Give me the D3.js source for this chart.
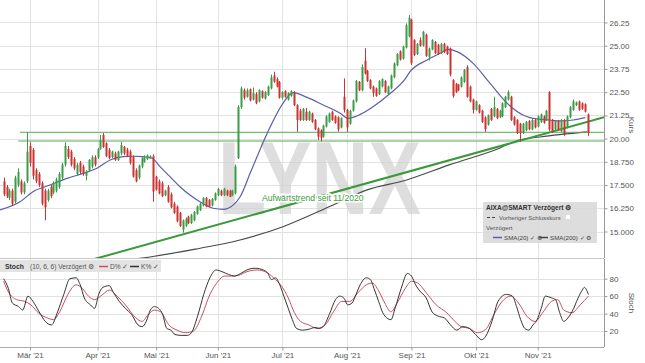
<!DOCTYPE html>
<html><head><meta charset="utf-8">
<script src="https://cdn.jsdelivr.net/npm/d3@7"></script>
<style>body{margin:0;background:#fff;} text{font-family:"Liberation Sans",Arial,sans-serif;}</style>
</head><body><svg id="c" width="645" height="363"></svg>
<script>
// ---------- data ----------
const firstDay = "2021-02-16", lastDay = "2021-11-24";
const holidays = ["2021-04-02", "2021-04-05"];
const monthLabels = ["Mär '21","Apr '21","Mai '21","Jun '21","Jul '21","Aug '21","Sep '21","Okt '21","Nov '21"];
const priceTicks = [15, 16.25, 17.5, 18.75, 20, 21.25, 22.5, 23.75, 25, 26.25];
const priceTickLabels = ["15.000","16.250","17.500","18.750","20.00","21.25","22.50","23.75","25.00","26.25"];
const stochTicks = [20, 40, 60, 80];
// daily candles [open, high, low, close]
const ohlc = [
[17.7,17.9,16.9,17.0],[17.4,17.5,16.8,16.9],[16.8,17.3,16.7,17.2],[17.2,17.3,16.4,16.5],[16.6,18.0,16.5,17.9],
[17.5,18.4,17.4,18.2],[17.7,17.8,17.0,17.1],[17.1,17.7,17.0,17.6],[17.7,20.35,17.6,19.3],[19.6,19.8,18.5,18.7],
[19.4,19.5,17.8,18.0],[18.3,18.4,17.6,17.7],[18.1,18.2,17.4,17.5],[17.6,17.7,16.4,16.5],[17.2,17.3,15.6,16.3],
[16.7,17.3,16.6,17.2],[17.4,17.5,16.8,16.9],[17.1,17.7,17.0,17.6],[17.2,17.9,17.1,17.8],[17.4,18.2,17.3,18.1],
[17.9,18.7,17.8,18.6],[18.6,19.8,18.5,19.6],[19.45,19.6,18.9,19.0],[19.3,19.4,18.5,18.6],[18.9,19.0,18.3,18.4],
[18.1,18.7,18.0,18.6],[18.7,18.8,18.1,18.2],[18.5,18.6,18.0,18.1],[18.0,18.3,17.75,18.2],[18.3,18.9,18.2,18.85],
[18.5,19.1,18.4,19.0],[19.0,19.1,18.5,18.6],[19.0,19.5,18.9,19.45],[19.45,20.2,19.4,19.9],[20.2,20.3,19.5,19.55],
[19.75,19.8,19.0,19.05],[19.4,19.5,18.9,18.95],[19.0,19.35,18.95,19.3],[19.2,19.3,18.8,18.85],[18.85,19.35,18.8,19.3],
[19.2,19.83,19.1,19.65],[19.55,19.6,19.1,19.2],[19.4,19.5,19.0,19.05],[19.3,19.4,18.6,18.7],[19.0,19.1,17.9,17.95],
[18.3,18.4,17.65,17.7],[17.9,18.6,17.8,18.55],[18.5,19.0,18.4,18.95],[18.75,19.1,18.7,19.0],[18.9,19.15,18.85,19.1],
[18.95,19.1,18.9,19.05],[19.05,19.15,16.6,17.15],[17.95,18.0,17.2,17.25],[17.7,17.8,17.0,17.05],[17.6,17.7,16.85,16.9],
[16.95,17.25,16.9,17.2],[17.4,17.5,16.55,16.6],[17.0,17.1,16.25,16.3],[16.5,16.6,15.95,16.0],[16.35,16.4,15.5,15.55],
[16.0,16.05,15.25,15.3],[15.1,15.65,14.94,15.6],[15.3,15.75,15.25,15.7],[15.8,15.85,15.4,15.45],[15.45,15.95,15.4,15.9],
[15.6,16.1,15.55,16.05],[15.95,16.4,15.9,16.35],[16.15,16.55,16.1,16.5],[16.4,16.85,16.35,16.8],[16.8,16.85,16.3,16.35],
[16.7,16.75,16.3,16.35],[16.4,16.8,16.35,16.75],[16.7,17.1,16.65,17.05],[16.95,17.35,16.9,17.3],[17.2,17.25,16.9,16.95],
[16.95,17.35,16.9,17.3],[17.2,17.25,16.9,16.95],[17.2,17.25,16.85,16.87],[16.95,17.25,16.9,17.2],[17.05,18.6,17.0,18.5],
[18.95,21.8,18.9,21.7],[21.7,22.8,21.6,22.7],[22.6,22.7,22.1,22.2],[22.25,22.7,22.2,22.6],[22.65,22.7,22.0,22.05],
[22.1,22.75,22.05,22.45],[22.4,22.5,21.85,21.9],[22.0,22.65,21.95,22.6],[22.55,22.6,22.15,22.2],[22.15,22.55,22.1,22.5],
[22.35,22.85,22.3,22.8],[22.7,23.45,22.65,23.3],[23.4,23.6,23.0,23.06],[23.2,23.3,22.75,22.8],[23.05,23.1,22.15,22.2],
[22.2,22.55,22.1,22.5],[22.55,22.6,22.2,22.25],[22.1,22.5,22.05,22.45],[22.3,22.6,22.25,22.55],[22.5,22.55,21.75,21.8],
[21.8,21.85,20.37,21.0],[21.5,21.6,20.95,21.0],[21.0,21.65,20.95,21.6],[21.45,21.65,20.95,21.0],[21.0,21.5,20.95,21.45],
[21.35,21.4,20.85,20.9],[21.0,21.05,20.45,20.5],[20.55,20.6,19.92,20.1],[20.45,20.5,19.85,20.05],[20.1,20.75,20.05,20.7],
[20.65,21.25,20.6,21.2],[20.9,21.4,20.85,21.35],[21.45,21.5,20.95,21.0],[21.2,21.25,20.8,20.85],[21.15,21.2,20.37,20.5],
[20.6,21.15,20.55,21.1],[22.25,23.24,21.4,21.55],[21.55,21.6,20.37,20.6],[20.8,21.55,20.75,21.5],[21.5,22.1,21.45,22.05],
[22.0,23.15,21.95,23.1],[23.05,23.1,22.55,22.6],[22.6,24.0,22.55,23.85],[24.2,24.86,23.45,23.5],[23.65,23.7,23.05,23.1],
[23.15,23.2,22.65,22.7],[22.8,22.85,22.25,22.45],[22.7,22.75,22.25,22.3],[22.4,23.15,22.35,23.1],[22.8,23.25,22.75,23.2],
[23.1,23.15,22.45,22.5],[22.4,22.85,22.35,22.8],[22.7,23.45,22.65,23.4],[23.3,24.1,23.25,24.05],[23.95,24.6,23.9,24.55],
[24.7,24.75,24.2,24.25],[24.3,25.0,24.25,24.95],[24.9,26.2,24.85,26.1],[25.5,26.65,25.45,26.5],[26.4,26.45,23.96,24.05],
[25.3,25.35,24.45,24.5],[24.55,25.15,24.5,25.1],[25.3,25.45,24.95,25.0],[25.0,25.8,24.95,25.75],[25.6,25.65,24.4,24.45],
[24.4,24.9,24.2,24.85],[24.8,25.35,24.75,25.3],[25.2,25.25,24.55,24.6],[25.05,25.1,24.5,24.55],[24.6,25.15,24.55,25.1],
[25.1,25.15,24.6,24.65],[24.95,25.0,24.5,24.55],[24.85,24.9,23.35,23.45],[23.15,23.2,22.2,22.3],[22.95,23.0,22.45,22.5],
[22.9,22.95,22.55,22.6],[22.8,23.35,22.75,23.3],[23.05,23.75,23.0,23.7],[23.85,23.95,22.2,22.25],[22.8,22.85,21.95,22.0],
[22.1,22.15,21.35,21.55],[21.55,22.05,21.5,22.0],[21.8,21.85,21.35,21.4],[21.5,21.55,20.85,20.9],[21.15,21.2,20.37,20.5],
[20.75,21.3,20.7,21.25],[21.6,21.65,20.95,21.0],[21.2,22.25,21.15,21.7],[21.6,21.65,21.05,21.1],[21.15,21.55,21.1,21.5],
[21.2,21.95,21.15,21.9],[21.7,22.3,21.65,22.25],[22.1,22.6,22.05,22.5],[22.25,22.3,20.95,21.0],[21.15,21.2,20.7,20.75],
[21.0,21.05,20.25,20.3],[20.8,20.85,19.83,20.3],[20.3,20.85,20.25,20.8],[20.45,20.95,20.4,20.9],[20.95,21.0,20.45,20.5],
[20.5,21.05,20.45,21.0],[21.0,21.05,20.55,20.6],[20.65,21.25,20.6,21.2],[20.9,21.35,20.85,21.3],[21.2,21.25,20.8,20.85],
[21.0,21.55,20.95,21.5],[22.5,22.55,20.4,20.5],[21.0,21.05,20.3,20.4],[20.5,21.0,20.45,20.95],[20.95,21.0,20.45,20.5],
[20.4,21.05,20.35,21.0],[21.0,21.05,20.15,20.2],[20.6,21.25,20.55,21.2],[21.15,21.75,21.1,21.7],[21.55,22.1,21.5,22.0],
[21.8,22.0,21.75,21.95],[22.0,22.05,21.5,21.55],[21.9,21.95,21.55,21.6],[21.85,21.9,21.4,21.45],[21.3,21.35,20.15,20.3]
];
// moving averages: [day index, value]
const sma20 = [[-1.2,16.16],[5.6,16.6],[10,17.14],[15.8,17.5],[21.6,17.86],[27.1,18.13],[31.8,18.4],[36.3,18.85],[40.7,19.03],[44.1,19.05],[47.5,19.03],[50.6,18.94],[53.3,18.49],[56.7,17.95],[60.1,17.41],[63.5,16.96],[66.9,16.6],[71.4,16.25],[74.8,16.19],[78.2,16.42],[80.6,16.87],[84,18.13],[89.8,20.28],[95.2,21.9],[98.6,22.47],[103.4,22.22],[108.9,21.81],[114.7,21.36],[117.4,21.09],[120.4,21.22],[125.9,21.72],[131.7,22.43],[136.8,23.2],[138.5,23.6],[144.3,24.23],[148.7,24.59],[151.5,24.8],[154.5,24.68],[160,24.05],[165.8,22.97],[171.6,21.9],[177,21.27],[180.4,21.09],[186.2,21.0],[189.6,20.95],[194.1,21.0],[198.2,21.13]];
const sma200 = [[37,13.4],[49.9,13.63],[67,14.1],[78.2,14.45],[95.2,15.26],[112.3,16.43],[123.9,17.24],[136.8,17.75],[152.1,18.6],[169.2,19.5],[175,19.9],[182.8,20.09],[198.8,20.36]];
// stochastic (10,6,6): [day index, value]
const stochK = [[0,80],[1.6,69],[3,52],[5.1,48],[6.5,44],[8.3,60],[10,54],[12.1,42],[14.2,31],[16.3,27],[18.4,42],[20.5,62],[22.6,80],[24.7,81],[26.1,73],[27.5,58],[29.6,50],[31,46],[32.4,62],[33.8,70],[36,72],[37.3,65],[39.4,54],[41.5,46],[43.6,39],[45.8,27],[47.2,25],[48.6,31],[50,44],[51.4,48],[52.8,46],[54.2,39],[55.6,23],[57,21],[58.4,16],[60.5,15],[62.6,15],[64,18],[66.1,37],[68.2,62],[70.3,81],[72.4,90],[74.5,88],[76.6,85],[78.7,83],[80.8,86],[82.9,90],[85.7,92],[88.5,90],[89.9,87],[91.3,79],[92.7,81],[94.1,73],[95.5,60],[97,46],[98.4,33],[99.8,23],[101.9,21],[104,22],[106.1,24],[107.5,23],[108.9,25],[111,39],[113.1,56],[114.5,60],[115.9,58],[117.3,50],[118.7,52],[120.1,62],[121.5,73],[123.6,81],[125,79],[126.4,67],[127.8,54],[129.2,41],[130.6,35],[132,33],[133.4,46],[135.5,69],[137.6,86],[139,83],[140.4,73],[141.8,66],[144,58],[146,42],[148.1,37],[150.2,35],[152.3,27],[154.4,21],[156.5,25],[158.7,23],[160.8,16],[162.9,10],[164.3,14],[166.4,31],[168.5,54],[171.3,62],[173.4,60],[174.8,48],[176.2,33],[177.6,23],[179,21],[180.4,27],[181.8,33],[183.2,46],[184.6,60],[186.7,58],[188.1,56],[189.5,41],[190.9,31],[192.3,35],[193.7,42],[195.8,58],[197.2,67],[197.9,70],[199.3,62]];
const stochD = [[0,77],[1.6,65],[4.4,56],[7.2,54],[9.3,50],[12.1,40],[14.9,35],[17,33],[19.1,42],[21.9,62],[24.7,73],[26.8,69],[28.9,60],[31,56],[33.8,62],[36,67],[38.7,60],[41.5,50],[45.1,35],[47.2,31],[49.3,39],[51.4,44],[53.5,42],[56.3,27],[59.1,21],[61.9,18],[64.7,20],[67.5,37],[70.3,62],[73.1,77],[75.2,83],[77.3,83],[80.1,84],[82.9,88],[86.4,90],[89.2,88],[92,81],[94.8,71],[97,58],[99.1,41],[101.2,31],[104,27],[106.8,23],[109.6,27],[112.4,42],[115.2,54],[118,54],[120.8,64],[123.6,73],[125.7,75],[127.8,66],[129.9,52],[132,42],[134.1,52],[136.9,69],[139,77],[141.1,75],[144,64],[147.4,50],[151,41],[153.8,31],[155.9,25],[158.7,23],[161.5,18],[164.3,22],[167.1,39],[169.9,54],[172.7,60],[175.5,52],[178.3,37],[181.1,31],[183.9,42],[186.7,54],[188.8,56],[190.9,44],[193.7,41],[196.5,50],[199.3,60]];
// drawn annotations
const resistanceLevels = [[5.6,20.34],[5.0,19.87]];   // [from day index, level]
const trendLine = [[31.2,13.53],[204.6,21.15]];
const trendLabel = "Aufwärtstrend seit 11/2020";

// ---------- helpers ----------
function tradingDays(s, e, hol) {
  const out = []; const d = new Date(s + "T12:00:00Z"); const end = new Date(e + "T12:00:00Z");
  while (d <= end) { const wd = d.getUTCDay(); const iso = d.toISOString().slice(0,10);
    if (wd !== 0 && wd !== 6 && !hol.includes(iso)) out.push(iso); d.setUTCDate(d.getUTCDate() + 1); }
  return out;
}
const dates = tradingDays(firstDay, lastDay, holidays);
const monthStarts = [];
dates.forEach((d, i) => { if (i > 0 && d.slice(5,7) !== dates[i-1].slice(5,7)) monthStarts.push(i); });

// ---------- layout ----------
const svg = d3.select("#c");
const L = 0, R = 604, pTop = 0, pBot = 258, sTop = 259, sBot = 347;
const x = d3.scaleLinear().domain([-1.23, 204.6]).range([L, R]);
const y = d3.scaleLinear().domain([13.574, 27.46]).range([pBot, pTop]);
const ys = d3.scaleLinear().domain([1.65, 102.6]).range([sBot, sTop]);
const grid = "#e2e2e2";

svg.append("defs").append("clipPath").attr("id","pc").append("rect").attr("x",L).attr("y",pTop).attr("width",R-L).attr("height",pBot-pTop);
svg.select("defs").append("clipPath").attr("id","sc").append("rect").attr("x",L).attr("y",sTop).attr("width",R-L).attr("height",sBot-sTop);

// grids
const gp = svg.append("g");
gp.selectAll(".hg").data(priceTicks).join("line").attr("x1",L).attr("x2",R)
  .attr("y1",d=>Math.round(y(d))+0.5).attr("y2",d=>Math.round(y(d))+0.5).attr("stroke",grid);
gp.selectAll(".hs").data(stochTicks).join("line").attr("x1",L).attr("x2",R)
  .attr("y1",d=>Math.round(ys(d))+0.5).attr("y2",d=>Math.round(ys(d))+0.5).attr("stroke",grid);
gp.selectAll(".vg").data(monthStarts).join("line").attr("x1",d=>Math.round(x(d))+0.5).attr("x2",d=>Math.round(x(d))+0.5)
  .attr("y1",pTop).attr("y2",sBot).attr("stroke",grid);

// watermark
svg.append("text").attr("x",218).attr("y",214).attr("textLength",203).attr("lengthAdjust","spacingAndGlyphs")
  .attr("font-size",104).attr("font-weight","bold").attr("fill","#d3d3d3").attr("opacity",0.75).text("LYNX");

// price panel
const pg = svg.append("g").attr("clip-path","url(#pc)");
const lineGen = d3.line().x(d=>x(d[0])).y(d=>y(d[1]));
pg.append("path").datum(sma200).attr("d", lineGen.curve(d3.curveMonotoneX)).attr("fill","none").attr("stroke","#4a4a4a").attr("stroke-width",1.1);
resistanceLevels.forEach(r => pg.append("line").attr("x1",x(r[0])).attr("x2",R).attr("y1",y(r[1])).attr("y2",y(r[1])).attr("stroke","#55aa55").attr("stroke-width",1));
pg.append("path").datum(trendLine).attr("d", d3.line().x(d=>x(d[0])).y(d=>y(d[1]))).attr("stroke","#3a9a3a").attr("stroke-width",2).attr("fill","none");
pg.append("path").datum(sma20).attr("d", d3.line().x(d=>x(d[0])).y(d=>y(d[1])).curve(d3.curveMonotoneX)).attr("fill","none").attr("stroke","#5b5fa8").attr("stroke-width",1.2);

const up = "#3c9c46", dn = "#cc3333";
const cg = pg.append("g");
cg.selectAll("line").data(ohlc).join("line")
  .attr("x1",(d,i)=>Math.round(x(i))+0.5).attr("x2",(d,i)=>Math.round(x(i))+0.5)
  .attr("y1",d=>y(d[1])).attr("y2",d=>y(d[2])).attr("stroke",d=>d[3]>=d[0]?up:dn).attr("stroke-width",1);
cg.selectAll("rect").data(ohlc).join("rect")
  .attr("x",(d,i)=>Math.round(x(i))-0.5).attr("width",2)
  .attr("y",d=>y(Math.max(d[0],d[3]))).attr("height",d=>Math.max(1,Math.abs(y(d[0])-y(d[3]))))
  .attr("fill",d=>d[3]>=d[0]?up:dn);

svg.append("text").attr("x",262).attr("y",201).attr("font-size",8.6).attr("fill","#3f9a3f")
  .attr("stroke","#fff").attr("stroke-width",3).attr("paint-order","stroke").text(trendLabel);

// stoch panel
const sg = svg.append("g").attr("clip-path","url(#sc)");
const sl = d3.line().x(d=>x(d[0])).y(d=>ys(d[1])).curve(d3.curveMonotoneX);
sg.append("path").datum(stochD).attr("d",sl).attr("fill","none").attr("stroke","#c85060").attr("stroke-width",1);
sg.append("path").datum(stochK).attr("d",sl).attr("fill","none").attr("stroke","#333").attr("stroke-width",1);

// panel frames
svg.append("line").attr("x1",L).attr("x2",R).attr("y1",pBot+0.5).attr("y2",pBot+0.5).attr("stroke","#c8c8c8");
svg.append("line").attr("x1",L).attr("x2",R).attr("y1",sBot+0.5).attr("y2",sBot+0.5).attr("stroke","#aaa");

// axes
const ax = svg.append("g").attr("transform",`translate(${R+0.5},0)`)
  .call(d3.axisRight(y).tickValues(priceTicks).tickFormat((d,i)=>priceTickLabels[i]).tickSize(3).tickPadding(2));
ax.select(".domain").attr("d",`M0,${pTop}V${pBot}`);
const axs = svg.append("g").attr("transform",`translate(${R+0.5},0)`)
  .call(d3.axisRight(ys).tickValues(stochTicks).tickSize(3).tickPadding(2));
axs.select(".domain").attr("d",`M0,${sTop}V${sBot}`);
const axb = svg.append("g").attr("transform",`translate(0,${sBot+0.5})`)
  .call(d3.axisBottom(x).tickValues(monthStarts).tickFormat((d,i)=>monthLabels[i]).tickSize(3).tickPadding(2));
axb.select(".domain").remove();
[ax,axs,axb].forEach(a=>{ a.selectAll("text").attr("font-size",8).attr("fill","#555").attr("font-family","Liberation Sans, Arial, sans-serif");
  a.selectAll("line").attr("stroke","#999"); a.select(".domain").attr("stroke","#999"); });

svg.append("text").attr("transform","translate(629,125) rotate(90)").attr("text-anchor","middle").attr("font-size",8).attr("fill","#555").text("Kurs");
svg.append("text").attr("transform","translate(629,303) rotate(90)").attr("text-anchor","middle").attr("font-size",8).attr("fill","#555").text("Stoch");

// legend box
const lg = svg.append("g");
lg.append("rect").attr("x",483).attr("y",202).attr("width",114).attr("height",41).attr("fill","#d9d9d9").attr("opacity",0.9);
lg.append("text").attr("x",486).attr("y",210).attr("font-size",6.6).attr("font-weight","bold").attr("fill","#333").text("AIXA@SMART Verzögert ⚙");
lg.append("line").attr("x1",487).attr("x2",496).attr("y1",217.5).attr("y2",217.5).attr("stroke","#444").attr("stroke-dasharray","3,2");
lg.append("text").attr("x",499).attr("y",220).attr("font-size",6).attr("fill","#555").text("Vorheriger Schlusskurs");
lg.append("rect").attr("x",566).attr("y",215).attr("width",4).attr("height",4).attr("fill","#fff");
lg.append("text").attr("x",486).attr("y",230).attr("font-size",6.2).attr("fill","#555").text("Verzögert");
lg.append("line").attr("x1",493).attr("x2",502).attr("y1",237.5).attr("y2",237.5).attr("stroke","#5b5fa8").attr("stroke-width",1.5);
lg.append("text").attr("x",504).attr("y",240).attr("font-size",6.2).attr("fill","#444").text("SMA(20) ✓ ⚙");
lg.append("line").attr("x1",539).attr("x2",548).attr("y1",237.5).attr("y2",237.5).attr("stroke","#444").attr("stroke-width",1.5);
lg.append("text").attr("x",550).attr("y",240).attr("font-size",6.2).attr("fill","#444").text("SMA(200) ✓ ⚙");

// stoch header
const sh = svg.append("g");
sh.append("rect").attr("x",0).attr("y",260).attr("width",161).attr("height",12).attr("fill","#e3e3e3");
sh.append("text").attr("x",5).attr("y",269).attr("font-size",6.8).attr("font-weight","bold").attr("fill","#333").text("Stoch");
sh.append("text").attr("x",30).attr("y",269).attr("font-size",6.6).attr("fill","#555").text("(10, 6, 6) Verzögert ⚙");
sh.append("line").attr("x1",99).attr("x2",108).attr("y1",266.5).attr("y2",266.5).attr("stroke","#c85060").attr("stroke-width",1.5);
sh.append("text").attr("x",110).attr("y",269).attr("font-size",6.6).attr("fill","#555").text("D% ✓");
sh.append("line").attr("x1",130).attr("x2",139).attr("y1",266.5).attr("y2",266.5).attr("stroke","#333").attr("stroke-width",1.5);
sh.append("text").attr("x",141).attr("y",269).attr("font-size",6.6).attr("fill","#555").text("K% ✓");
</script></body></html>
